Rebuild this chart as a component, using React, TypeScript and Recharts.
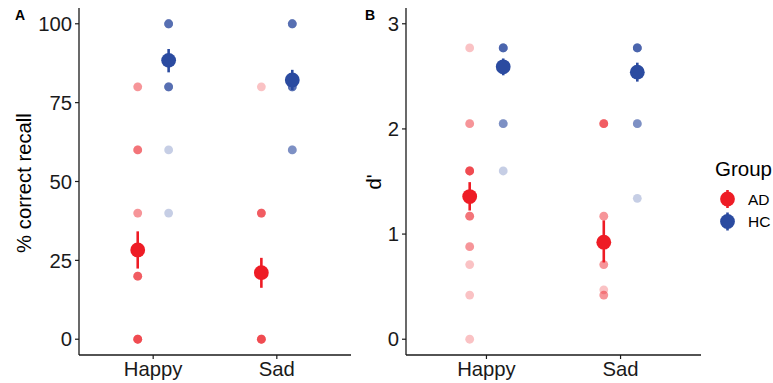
import React from 'react';
import { ScatterChart, Scatter, XAxis, YAxis, ErrorBar } from 'recharts';

// ---- data ----
const conditions = ['Happy', 'Sad'];
const groups = ['AD', 'HC'];

// Panel A: % correct recall (individual values, duplicates overlap)
const recallADHappy = [80, 80, 60, 60, 60, 40, 40, 20, 20, 20, 20, 0, 0, 0, 0, 0];
const recallADSad = [80, 40, 40, 40, 40, 0, 0, 0, 0, 0];
const recallHCHappy = [100, 100, 100, 100, 100, 80, 80, 80, 80, 80, 60, 40];
const recallHCSad = [100, 100, 100, 100, 100, 80, 80, 80, 80, 80, 60, 60, 60];

// means with [lower, upper] bounds
const recallMeanAD = [28.3, 21.1];
const recallLowAD = [22.4, 16.3];
const recallHighAD = [34.2, 25.8];
const recallMeanHC = [88.4, 82.2];
const recallLowHC = [84.6, 79.0];
const recallHighHC = [92.0, 85.4];

// Panel B: d'
const dADHappy = [2.77, 2.05, 2.05, 1.6, 1.6, 1.6, 1.6, 1.6, 1.17, 1.17, 1.17, 0.88, 0.88, 0.71, 0.42, 0];
const dADSad = [2.05, 2.05, 2.05, 2.05, 1.17, 1.17, 0.71, 0.71, 0.47, 0.42, 0.42];
const dHCHappy = [2.77, 2.77, 2.77, 2.77, 2.77, 2.77, 2.05, 2.05, 2.05, 1.6];
const dHCSad = [2.77, 2.77, 2.77, 2.77, 2.77, 2.77, 2.05, 2.05, 2.05, 1.34];

const dMeanAD = [1.357, 0.923];
const dLowAD = [1.224, 0.73];
const dHighAD = [1.494, 1.13];
const dMeanHC = [2.591, 2.54];
const dLowHC = [2.51, 2.45];
const dHighHC = [2.67, 2.63];

const recallTicks = [0, 25, 50, 75, 100];
const dTicks = [0, 1, 2, 3];

// ---- style ----
const RED = '#ee1c25';
const BLUE = '#2b4ba0';
const FONT = '"Liberation Sans", Arial, Helvetica, sans-serif';
const INK = '#1a1a1a';
const DODGE = 0.125;

const groupOffset: Record<string, number> = { AD: -DODGE, HC: DODGE };

const pts = (vals: number[], condIdx: number, group: string) =>
  vals.map((y) => ({ x: condIdx + 1 + groupOffset[group], y }));

const means = (m: number[], lo: number[], hi: number[], group: string) =>
  m.map((y, i) => ({ x: i + 1 + groupOffset[group], y, err: [y - lo[i], hi[i] - y] }));

const dot = (color: string) => (p: any) => (
  <circle cx={p.cx} cy={p.cy} r={4.4} fill={color} fillOpacity={0.27} />
);
const bigDot = (color: string) => (p: any) => (
  <circle cx={p.cx} cy={p.cy} r={7.4} fill={color} />
);

const tickStyle = { fill: INK, fontSize: 20.3, fontFamily: FONT };

function Panel(props: {
  width: number;
  yWidth: number;
  domain: [number, number];
  ticks: number[];
  adH: number[];
  adS: number[];
  hcH: number[];
  hcS: number[];
  mAD: number[];
  lAD: number[];
  hAD: number[];
  mHC: number[];
  lHC: number[];
  hHC: number[];
}) {
  return (
    <ScatterChart width={props.width} height={383} margin={{ top: 8, right: 9, bottom: 0, left: 0 }}>
      <XAxis
        type="number"
        dataKey="x"
        domain={[0.4, 2.6]}
        ticks={[1, 2]}
        tickFormatter={(v: number) => conditions[Math.round(v) - 1]}
        height={28}
        axisLine={{ stroke: INK, strokeWidth: 1.3 }}
        tickLine={{ stroke: INK, strokeWidth: 1.2 }}
        tickSize={4}
        tickMargin={3}
        tick={tickStyle}
        allowDataOverflow
      />
      <YAxis
        type="number"
        dataKey="y"
        domain={props.domain}
        ticks={props.ticks}
        width={props.yWidth}
        axisLine={{ stroke: INK, strokeWidth: 1.3 }}
        tickLine={{ stroke: INK, strokeWidth: 1.2 }}
        tickSize={4}
        tickMargin={3}
        tick={tickStyle}
        allowDataOverflow
      />
      <Scatter data={pts(props.adH, 0, 'AD')} shape={dot(RED)} isAnimationActive={false} />
      <Scatter data={pts(props.adS, 1, 'AD')} shape={dot(RED)} isAnimationActive={false} />
      <Scatter data={pts(props.hcH, 0, 'HC')} shape={dot(BLUE)} isAnimationActive={false} />
      <Scatter data={pts(props.hcS, 1, 'HC')} shape={dot(BLUE)} isAnimationActive={false} />
      <Scatter data={means(props.mAD, props.lAD, props.hAD, 'AD')} shape={bigDot(RED)} isAnimationActive={false}>
        <ErrorBar dataKey="err" direction="y" width={0} stroke={RED} strokeWidth={2.6} isAnimationActive={false} />
      </Scatter>
      <Scatter data={means(props.mHC, props.lHC, props.hHC, 'HC')} shape={bigDot(BLUE)} isAnimationActive={false}>
        <ErrorBar dataKey="err" direction="y" width={0} stroke={BLUE} strokeWidth={2.6} isAnimationActive={false} />
      </Scatter>
    </ScatterChart>
  );
}

export default function App() {
  return (
    <div style={{ position: 'fixed', left: 0, top: 0, width: 773, height: 383, background: '#fff', overflow: 'hidden' }}>
      <div style={{ position: 'absolute', left: 0, top: 0 }}>
        <Panel
          width={360}
          yWidth={79}
          domain={[-5, 105]}
          ticks={recallTicks}
          adH={recallADHappy}
          adS={recallADSad}
          hcH={recallHCHappy}
          hcS={recallHCSad}
          mAD={recallMeanAD}
          lAD={recallLowAD}
          hAD={recallHighAD}
          mHC={recallMeanHC}
          lHC={recallLowHC}
          hHC={recallHighHC}
        />
      </div>
      <div style={{ position: 'absolute', left: 360, top: 0 }}>
        <Panel
          width={350}
          yWidth={46}
          domain={[-0.15, 3.15]}
          ticks={dTicks}
          adH={dADHappy}
          adS={dADSad}
          hcH={dHCHappy}
          hcS={dHCSad}
          mAD={dMeanAD}
          lAD={dLowAD}
          hAD={dHighAD}
          mHC={dMeanHC}
          lHC={dLowHC}
          hHC={dHighHC}
        />
      </div>
      <svg
        width={773}
        height={383}
        style={{ position: 'absolute', left: 0, top: 0, pointerEvents: 'none' }}
        fontFamily={FONT}
      >
        <text x={15} y={20} fontSize={14} fontWeight="bold" fill="#000">A</text>
        <text x={365} y={20} fontSize={14} fontWeight="bold" fill="#000">B</text>
        <text
          x={24}
          y={183}
          fontSize={20.3}
          fill="#000"
          textAnchor="middle"
          dominantBaseline="central"
          transform="rotate(-90 24 183)"
        >
          % correct recall
        </text>
        <text
          x={374}
          y={182}
          fontSize={20.3}
          fill="#000"
          textAnchor="middle"
          dominantBaseline="central"
          transform="rotate(-90 374 182)"
        >
          d'
        </text>
        <text x={715} y={175.5} fontSize={20.5} fill="#000">Group</text>
        {groups.map((g, i) => {
          const cy = 199 + i * 22.5;
          const color = g === 'AD' ? RED : BLUE;
          return (
            <g key={g}>
              <line x1={727.5} x2={727.5} y1={cy - 9} y2={cy + 9} stroke={color} strokeWidth={2.6} />
              <circle cx={727.5} cy={cy} r={7.4} fill={color} />
              <text x={748} y={cy + 5.5} fontSize={15.5} fill="#000">{g}</text>
            </g>
          );
        })}
      </svg>
    </div>
  );
}
